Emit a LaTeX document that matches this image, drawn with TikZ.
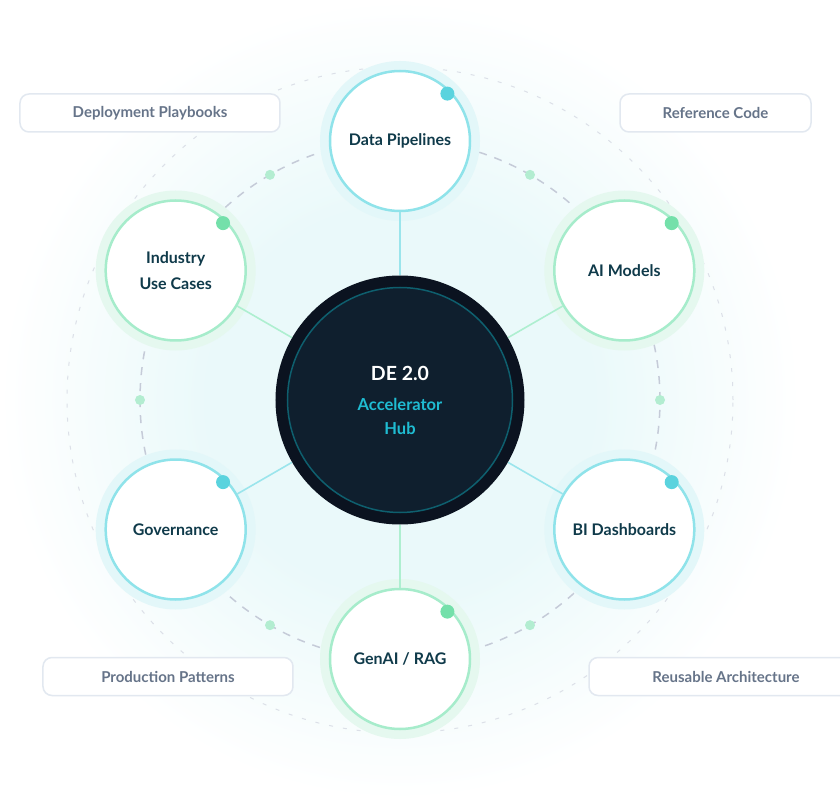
\documentclass[tikz,border=0pt]{standalone}
\usepackage{fontspec}
\setmainfont{Lato}
\usetikzlibrary{positioning}

\definecolor{hubouter}{HTML}{0B1320}
\definecolor{hubinner}{HTML}{0F1F2E}
\definecolor{hubring}{HTML}{0E5F6E}
\definecolor{hubaccent}{HTML}{1FBCD2}
\definecolor{ringcyan}{HTML}{8FE3EA}
\definecolor{ringgreen}{HTML}{A6ECCB}
\definecolor{halocyan}{HTML}{E3F7F9}
\definecolor{halogreen}{HTML}{E5F8EF}
\definecolor{dotcyan}{HTML}{5AD3DE}
\definecolor{dotgreen}{HTML}{74E0AA}
\definecolor{spokecyan}{HTML}{9BE5EC}
\definecolor{spokegreen}{HTML}{AEEFD0}
\definecolor{orbitgray}{HTML}{C5CBD8}
\definecolor{outergray}{HTML}{DCE0E8}
\definecolor{orbitdot}{HTML}{B3EDD1}
\definecolor{sattext}{HTML}{0F3A4A}
\definecolor{boxtext}{HTML}{667489}
\definecolor{boxline}{HTML}{E2E8F0}
\definecolor{glowc}{HTML}{EAF9FA}

\pgfdeclareradialshading{glow}{\pgfpoint{0bp}{0bp}}{color(0bp)=(glowc); color(12bp)=(glowc); color(25bp)=(white); color(50bp)=(white)}

\begin{document}
\begin{tikzpicture}[x=1pt,y=1pt,
  sat/.style={circle,fill=white,line width=2.5pt,minimum size=140pt,inner sep=0pt,align=center,text=sattext,font=\bfseries\fontsize{16}{26}\selectfont},
  satc/.style={sat,draw=ringcyan,preaction={draw=halocyan,line width=20pt}},
  satg/.style={sat,draw=ringgreen,preaction={draw=halogreen,line width=20pt}},
  accentc/.style={circle,fill=dotcyan,minimum size=14pt,inner sep=0pt},
  accentg/.style={circle,fill=dotgreen,minimum size=14pt,inner sep=0pt},
  orbdot/.style={circle,fill=orbitdot,minimum size=10pt,inner sep=0pt},
  tag/.style={draw=boxline,fill=white,line width=1.5pt,rounded corners=9pt,minimum height=38pt,text=boxtext,font=\bfseries\fontsize{15}{16}\selectfont},
  spokec/.style={draw=spokecyan,line width=1.6pt},
  spokeg/.style={draw=spokegreen,line width=1.6pt}]
\useasboundingbox (-400,-400) rectangle (440,400);
\clip (-400,-400) rectangle (440,400);
\fill[white] (-400,-400) rectangle (440,400);
\shade[shading=glow] (0,0) circle (400pt);

\draw[outergray,line width=1pt,dash pattern=on 4pt off 10pt] (0,0) circle (333pt);
\draw[orbitgray,line width=1.5pt,dash pattern=on 8pt off 8pt] (0,0) circle (260pt);

\node[orbdot](d0) at (0:260){};
\node[orbdot](d60) at (60:260){};
\node[orbdot](d120) at (120:260){};
\node[orbdot](d180) at (180:260){};
\node[orbdot](d240) at (240:260){};
\node[orbdot](d300) at (300:260){};

\node[tag,minimum width=260pt](playbooks) at (-250,287){Deployment Playbooks};
\node[tag,minimum width=191pt](refcode) at (315.5,287){Reference Code};
\node[tag,minimum width=250pt](patterns) at (-232,-276.5){Production Patterns};
\node[tag,minimum width=274pt](architecture) at (326,-276.5){Reusable Architecture};

\node[circle,fill=hubouter,minimum size=249pt,inner sep=0pt](hub) at (0,0){};
\node[circle,fill=hubinner,draw=hubring,line width=1.5pt,minimum size=225pt,inner sep=0pt,align=center,text=hubaccent,font=\bfseries\fontsize{16.5}{24}\selectfont](core) at (0,0)
  {\textcolor{white}{\fontsize{19.5}{22}\selectfont DE 2.0}\\[6pt]
   Accelerator\\Hub};

\node[satc](pipelines) at (90:259){Data Pipelines};
\node[satg](models) at (30:259){AI Models};
\node[satc](bidash) at (-30:259){BI Dashboards};
\node[satg](genai) at (-90:259){GenAI / RAG};
\node[satc](governance) at (210:259){Governance};
\node[satg](usecases) at (150:259){Industry\\Use Cases};

\path
(hub) edge[spokec] (pipelines)
(hub) edge[spokeg] (models)
(hub) edge[spokec] (bidash)
(hub) edge[spokeg] (genai)
(hub) edge[spokec] (governance)
(hub) edge[spokeg] (usecases);

\node[accentc](pipelines-dot) at ([shift={(45:67)}]pipelines.center){};
\node[accentg](models-dot) at ([shift={(45:67)}]models.center){};
\node[accentc](bidash-dot) at ([shift={(45:67)}]bidash.center){};
\node[accentg](genai-dot) at ([shift={(45:67)}]genai.center){};
\node[accentc](governance-dot) at ([shift={(45:67)}]governance.center){};
\node[accentg](usecases-dot) at ([shift={(45:67)}]usecases.center){};
\end{tikzpicture}
\end{document}
